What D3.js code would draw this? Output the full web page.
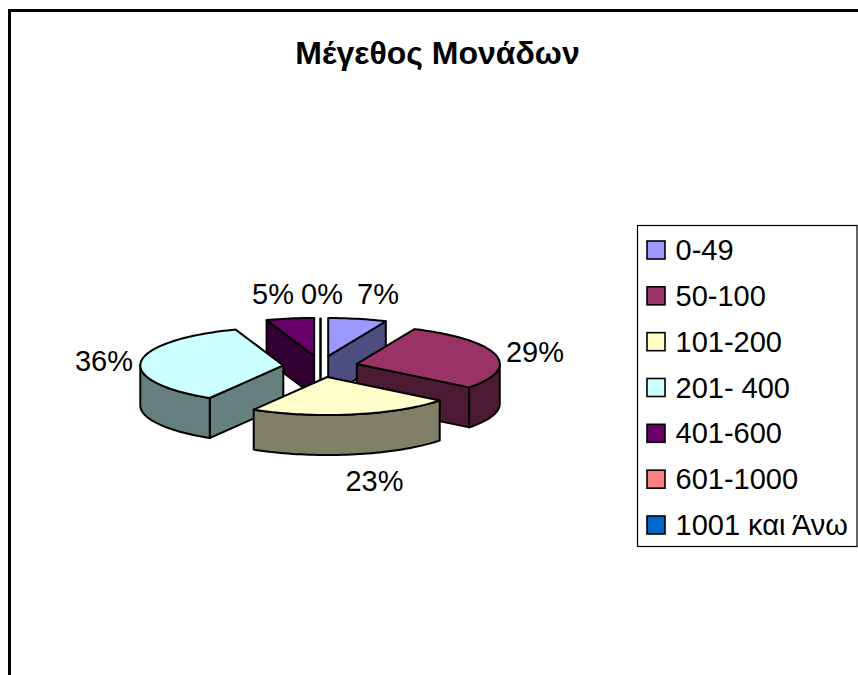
<!DOCTYPE html>
<html><head><meta charset="utf-8">
<script src="https://cdn.jsdelivr.net/npm/d3@7/dist/d3.min.js"></script>
<style>html,body{margin:0;padding:0;background:#fff}svg{display:block}text{font-family:"Liberation Sans",Arial,sans-serif;fill:#000}</style>
</head><body><svg id="c" width="858" height="675"></svg>
<script>
const titleText = "Μέγεθος Μονάδων";
const categories = ["0-49","50-100","101-200","201- 400","401-600","601-1000","1001 και Άνω"];
const values = [6.6,29,23,36,5.4,0,0];
const topColors = ["#9999FF","#993366","#FFFFCC","#CCFFFF","#660066","#FF8080","#0066CC"];
const sideColors = ["#4D4D80","#4D1A33","#808066","#668080","#330033","#804040","#003366"];

const svg = d3.select("#c");

// frame
svg.append("path").attr("d","M9.5 675V10.5H858").attr("fill","none").attr("stroke","#000").attr("stroke-width",3);

// title
svg.append("text").attr("x",437.5).attr("y",64).attr("text-anchor","middle")
  .attr("font-size",32).attr("font-weight","bold").text(titleText);

// pie geometry
const cx=320.5, cy=366.5, rx=143, ry=38, depth=40, ex=37.4, ey=10.7;
const xs = d3.scaleLinear().domain([-1,1]).range([cx-rx,cx+rx]);
const ys = d3.scaleLinear().domain([-1,1]).range([cy-ry,cy+ry]);
const pie = d3.pie().sort(null).value(d=>d);
const arcs = pie(values).map((a,i)=>{
  const mid=(a.startAngle+a.endAngle)/2;
  const ox=ex*Math.sin(mid), oy=-ey*Math.cos(mid);
  const apex=[cx+ox,cy+oy];
  const span=a.endAngle-a.startAngle;
  const n=Math.max(1,Math.ceil(span/0.03));
  const rim=d3.range(n+1).map(k=>{
    const t=a.startAngle+span*k/n;
    return [xs(Math.sin(t))+ox, ys(-Math.cos(t))+oy];
  });
  return {i,apex,rim,span};
});
const line=d3.line();
const down=p=>[p[0],p[1]+depth];
const order=arcs.slice().sort((a,b)=>a.apex[1]-b.apex[1]);
const g=svg.append("g").attr("stroke","#000").attr("stroke-width",2).attr("stroke-linejoin","round");
function face(pts,fill){g.append("path").attr("d",line(pts)+"Z").attr("fill",fill);}
order.forEach(s=>{
  const side=sideColors[s.i], top=topColors[s.i];
  if(s.span===0){
    g.append("path").attr("d",line([s.rim[0],s.apex,down(s.apex)])).attr("fill","none").attr("stroke-width",2);
    return;
  }
  const first=s.rim[0], last=s.rim[s.rim.length-1];
  if(first[0]<s.apex[0]) face([s.apex,first,down(first),down(s.apex)],side);
  if(s.apex[0]<last[0]) face([last,s.apex,down(s.apex),down(last)],side);
  const vis=s.rim.filter((p,k)=>(k>0&&s.rim[k-1][0]>p[0])||(k<s.rim.length-1&&p[0]>s.rim[k+1][0]));
  if(vis.length>1) face(vis.concat(vis.map(down).reverse()),side);
  face([s.apex,...s.rim],top);
});

// percent labels
const pctText=d3.format(".0f");
const labelPos=[[378,303.5],[535,362],[374.5,491],[104,370.5],[273,303.5],[322,303.5]];
labelPos.forEach((p,i)=>{
  svg.append("text").attr("x",p[0]).attr("y",p[1]).attr("text-anchor","middle").attr("font-size",29)
    .text(pctText(values[i])+"%");
});

// legend
const lg=svg.append("g");
lg.append("rect").attr("x",637.5).attr("y",225.5).attr("width",219.5).attr("height",321)
  .attr("fill","#fff").attr("stroke","#000").attr("stroke-width",1.2);
const ly=d3.scalePoint().domain(categories).range([250,525]);
categories.forEach((c,i)=>{
  lg.append("rect").attr("x",647).attr("y",ly(c)-9).attr("width",18).attr("height",18)
    .attr("fill",topColors[i]).attr("stroke","#000").attr("stroke-width",1.6);
  lg.append("text").attr("x",675.5).attr("y",ly(c)+10).attr("font-size",29).text(c);
});
</script></body></html>
